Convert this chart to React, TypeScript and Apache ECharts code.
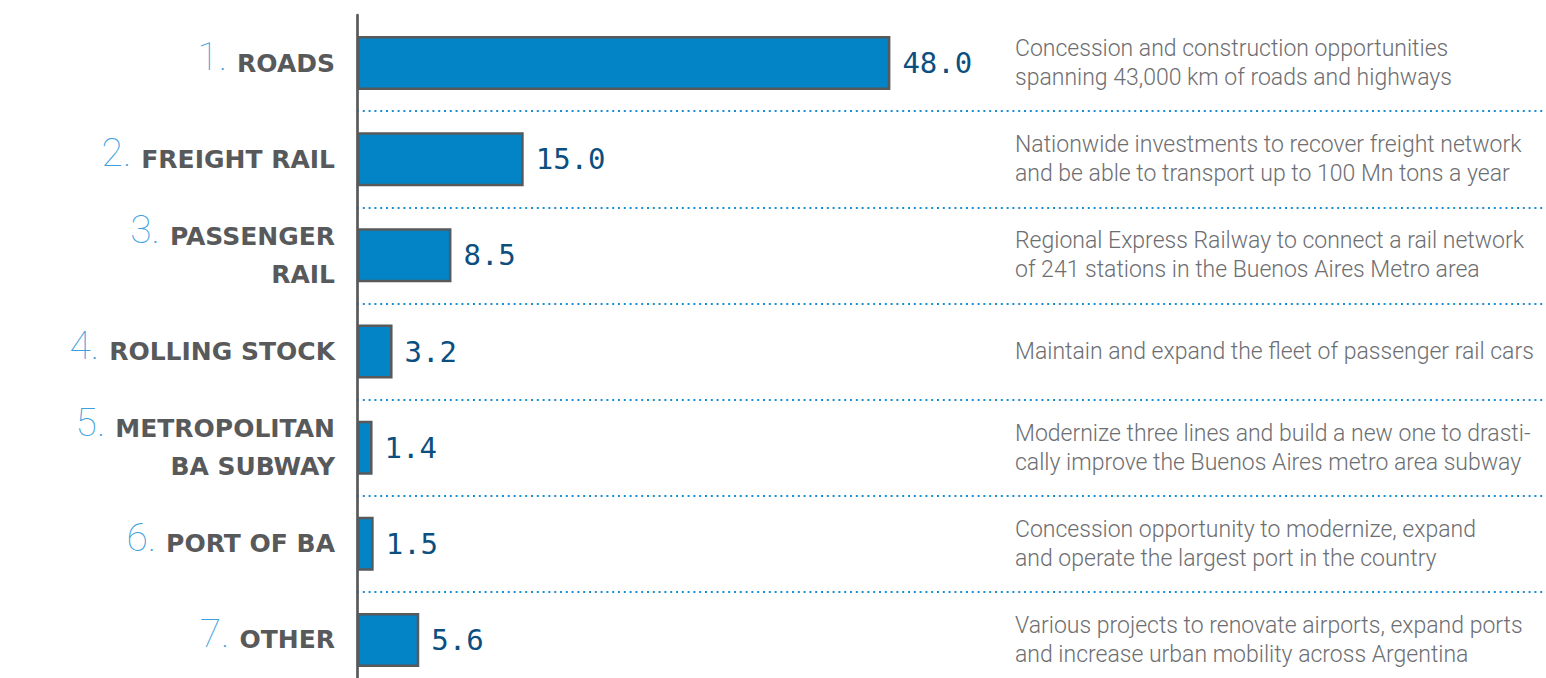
import React, { useEffect, useRef } from "react";
import * as echarts from "echarts";

const ranks = ["1", "2", "3", "4", "5", "6", "7"];
const categories = [
  "ROADS",
  "FREIGHT RAIL",
  "PASSENGER\nRAIL",
  "ROLLING STOCK",
  "METROPOLITAN\nBA SUBWAY",
  "PORT OF BA",
  "OTHER",
];
const values = [48.0, 15.0, 8.5, 3.2, 1.4, 1.5, 5.6];
const descriptions = [
  "Concession and construction opportunities\nspanning 43,000 km of roads and highways",
  "Nationwide investments to recover freight network\nand be able to transport up to 100 Mn tons a year",
  "Regional Express Railway to connect a rail network\nof 241 stations in the Buenos Aires Metro area",
  "Maintain and expand the fleet of passenger rail cars",
  "Modernize three lines and build a new one to drasti-\ncally improve the Buenos Aires metro area subway",
  "Concession opportunity to modernize, expand\nand operate the largest port in the country",
  "Various projects to renovate airports, expand ports\nand increase urban mobility across Argentina",
];

export default function App() {
  const ref = useRef<HTMLDivElement>(null);
  useEffect(() => {
    if (!ref.current) return;
    const chart = echarts.init(ref.current, null, { renderer: "svg" });
    chart.setOption({
      animation: false,
      backgroundColor: "#ffffff",
      grid: {
        left: 357,
        right: 0,
        top: 15,
        height: 673,
        containLabel: false,
        outerBoundsMode: "none",
      },
      xAxis: {
        type: "value",
        min: 0,
        max: 107,
        show: false,
      },
      yAxis: [
        {
          type: "category",
          inverse: true,
          data: categories,
          position: "left",
          axisLine: { show: true, lineStyle: { color: "#58595b", width: 2.7 } },
          axisTick: { show: false },
          splitLine: {
            show: true,
            interval: (index: number) => index > 0,
            lineStyle: { color: "#1b8fd4", width: 2, type: [2, 3.8] },
          },
          axisLabel: {
            margin: 22,
            align: "right",
            formatter: (value: string, index: number) => {
              const lines = value.split("\n");
              return lines
                .map((l, i) =>
                  i === 0
                    ? "{n|" + ranks[index] + ".}{c|" + l + "}"
                    : "{c|" + l + "}"
                )
                .join("\n");
            },
            rich: {
              n: {
                fontFamily: "Roboto",
                fontWeight: 100,
                fontSize: 39,
                color: "#3d9fdc",
                lineHeight: 26,
                padding: [0, 10, 12, 0],
                verticalAlign: "middle",
              },
              c: {
                fontFamily: "DejaVu Sans",
                fontWeight: "bold",
                fontSize: 25,
                color: "#58595b",
                lineHeight: 38,
                verticalAlign: "middle",
              },
            },
          },
        },
        {
          type: "category",
          inverse: true,
          data: descriptions,
          position: "left",
          offset: -656,
          axisLine: { show: false },
          axisTick: { show: false },
          splitLine: { show: false },
          axisLabel: {
            inside: true,
            margin: 2,
            align: "left",
            fontFamily: "Roboto",
            fontWeight: 300,
            fontSize: 23,
            lineHeight: 29,
            color: "#6d6e71",
          },
        },
      ],
      series: [
        {
          type: "bar",
          yAxisIndex: 0,
          data: values,
          barWidth: 54,
          itemStyle: {
            color: "#0284c7",
            borderColor: "#58595b",
            borderWidth: 2.5,
          },
          label: {
            show: true,
            position: "right",
            distance: 12,
            formatter: (p: any) => Number(p.value).toFixed(1),
            fontFamily: "DejaVu Sans Mono",
            fontSize: 29,
            color: "#0b4f80",
          },
        },
      ],
    });
    return () => chart.dispose();
  }, []);
  return (
    <div
      ref={ref}
      style={{ position: "absolute", left: 0, top: 0, width: 1546, height: 678 }}
    />
  );
}
